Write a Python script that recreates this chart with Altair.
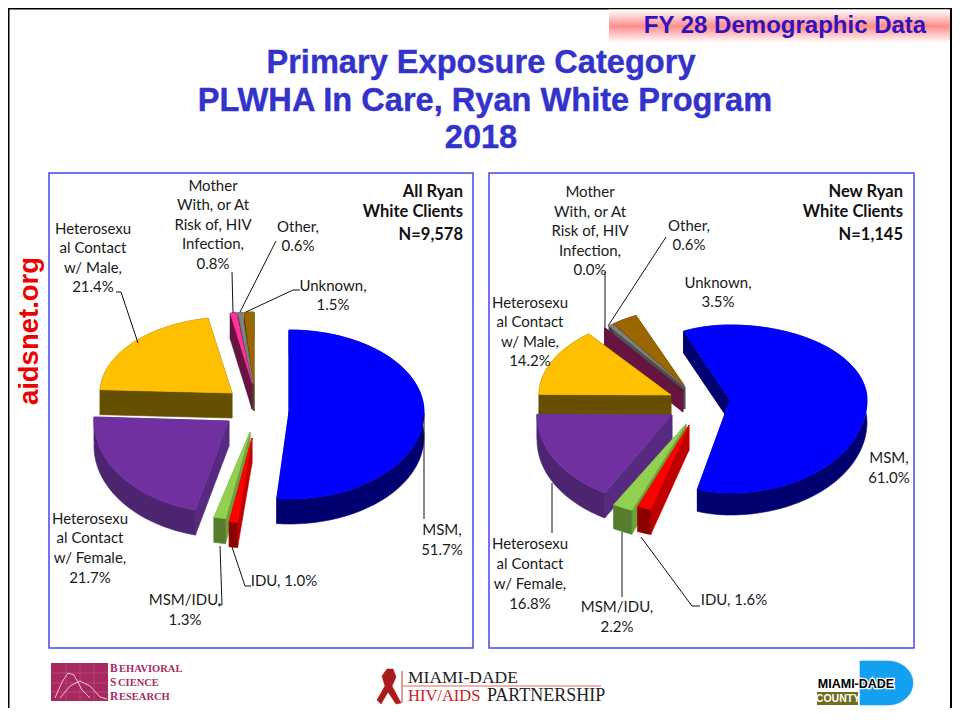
import math
import altair as alt
import pandas as pd

# ---------- values ----------
categories = ["MSM", "IDU", "MSM/IDU", "Heterosexual Contact w/ Female",
              "Heterosexual Contact w/ Male", "Mother With, or At Risk of, HIV Infection",
              "Other", "Unknown"]
all_clients = [51.7, 1.0, 1.3, 21.7, 21.4, 0.8, 0.6, 1.5]
new_clients = [61.0, 1.6, 2.2, 16.8, 14.2, 0.0, 0.6, 3.5]

top_colors = ["#0000FF", "#FF0000", "#92D050", "#7030A0", "#FFC000", "#FF3399", "#808080", "#996600"]
wall_colors = ["#000070", "#8B0000", "#557D2C", "#4C2470", "#664F00", "#661440", "#404040", "#4A3000"]
cut_colors = ["#00006E", "#C00000", "#6FA03C", "#552A80", "#664F00", "#661440", "#505050", "#4A3000"]

# ---------- pie layout (apex x, apex y, rx right, rx left, ry-top, ry-bottom, depth) ----------
left_geo = [(289, 412, 135, 115, 82, 87, 25), (252, 438, 135, 135, 85, 85, 25), (250, 432, 145, 145, 88, 88, 25),
            (229, 421, 135, 135, 92, 92, 25), (232, 393, 132, 132, 76, 76, 25), (252, 383, 120, 120, 71, 71, 26),
            (253, 384, 115, 115, 72, 72, 26), (254, 385, 106, 106, 73, 73, 26)]
right_geo = [(730, 400, 137, 117, 75, 93, 22), (689, 425, 137, 137, 88, 88, 25), (686, 424, 145, 145, 93, 93, 24),
             (672, 415, 140, 135, 90, 90, 25), (671, 395, 128, 132, 78, 78, 20), (683, 390, 126, 126, 80, 80, 22),
             (685, 387, 122, 122, 78, 78, 22), (684, 385, 119, 119, 76, 76, 24)]
left_rotation = 0.0
right_rotation = -23.4
paint_order = [7, 6, 5, 4, 3, 2, 1, 0]


def slice_rows(name, values, geo, rotation):
    rows = []
    starts, acc = [], rotation
    for v in values:
        starts.append(acc)
        acc += v * 3.6
    for k in paint_order:
        ax, ay, rxr, rxl, ryt, ryb, d = geo[k]
        a0, a1 = starts[k], starts[k] + values[k] * 3.6

        def pt(a):
            r = math.radians(a)
            c, s = math.cos(r), math.sin(r)
            return ax + (rxr if s > 0 else rxl) * s, ay - (ryt if c > 0 else ryb) * c

        n = max(2, int((a1 - a0) / 2) + 2)
        arc = [pt(a0 + (a1 - a0) * j / (n - 1)) for j in range(n)]

        def add(part, pts, color):
            pid = f"{name}-{k}-{part}"
            for i, (x, y) in enumerate(pts):
                rows.append(dict(id=pid, i=i, x=x, y=y, fill=color))

        p0, p1 = arc[0], arc[-1]
        add("cut0", [(ax, ay), p0, (p0[0], p0[1] + d), (ax, ay + d)], cut_colors[k])
        add("cut1", [(ax, ay), p1, (p1[0], p1[1] + d), (ax, ay + d)], cut_colors[k])
        add("wall", arc + [(x, y + d) for x, y in reversed(arc)], wall_colors[k])
        if values[k] > 0:
            add("top", [(ax, ay)] + arc, top_colors[k])
    return rows


pie_rows = slice_rows("all", all_clients, left_geo, left_rotation) + \
    slice_rows("new", new_clients, right_geo, right_rotation)

# ---------- annotation text ----------
left_labels = [
    ("Mother", 213, 186), ("With, or At", 213, 205), ("Risk of, HIV", 213, 225), ("Infection,", 213, 244), ("0.8%", 213, 264),
    ("Heterosexu", 93, 229), ("al Contact", 93, 248), ("w/ Male,", 93, 268), ("21.4%", 93, 287),
    ("Other,", 298, 227), ("0.6%", 298, 246), ("Unknown,", 333, 286), ("1.5%", 333, 305),
    ("Heterosexu", 90, 519), ("al Contact", 90, 538), ("w/ Female,", 90, 558), ("21.7%", 90, 578),
    ("MSM/IDU,", 185, 600), ("1.3%", 185, 620), ("IDU, 1.0%", 284, 581), ("MSM,", 442, 530), ("51.7%", 442, 550),
]
right_labels = [
    ("Mother", 590, 192), ("With, or At", 590, 212), ("Risk of, HIV", 590, 231), ("Infection,", 590, 251), ("0.0%", 590, 270),
    ("Other,", 689, 226), ("0.6%", 689, 245), ("Unknown,", 718, 283), ("3.5%", 718, 302),
    ("Heterosexu", 530, 303), ("al Contact", 530, 322), ("w/ Male,", 530, 342), ("14.2%", 530, 361),
    ("Heterosexu", 530, 544), ("al Contact", 530, 564), ("w/ Female,", 530, 584), ("16.8%", 530, 604),
    ("MSM/IDU,", 617, 607), ("2.2%", 617, 627), ("IDU, 1.6%", 734, 600), ("MSM,", 889, 458), ("61.0%", 889, 478),
]
panel_titles = [("All Ryan", 463, 192), ("White Clients", 463, 212), ("N=9,578", 463, 235),
                ("New Ryan", 903, 192), ("White Clients", 903, 212), ("N=1,145", 903, 235)]
main_title = [("Primary Exposure Category", 481, 63), ("PLWHA In Care, Ryan White Program", 485, 101), ("2018", 481, 138)]

leaders = [
    [(232, 272), (233, 313)], [(276, 241), (240, 312)], [(246, 312), (293, 290), (300, 290)],
    [(116, 292), (121, 292), (138, 343)], [(424, 413), (424, 519)],
    [(232, 547), (245, 586), (251, 586)], [(220, 546), (222, 605), (218, 605)],
    [(605, 272), (605, 327)], [(666, 237), (608, 326)], [(552, 483), (552, 533)],
    [(622, 532), (622, 597)], [(641, 537), (692, 606), (700, 606)],
]

X = alt.X("x:Q", axis=None, scale=alt.Scale(domain=[8, 952], nice=False, zero=False))
Y = alt.Y("y:Q", axis=None, scale=alt.Scale(domain=[708, 8], nice=False, zero=False))


def rect_layer(x0, x1, y0, y1, **mark):
    df = pd.DataFrame([dict(x=x0, x2=x1, y=y0, y2=y1)])
    return alt.Chart(df).mark_rect(**mark).encode(x=X, x2="x2:Q", y=Y, y2="y2:Q")


def text_layer(rows, **mark):
    df = pd.DataFrame(rows, columns=["t", "x", "y"])
    return alt.Chart(df).mark_text(baseline="middle", **mark).encode(x=X, y=Y, text="t:N")


def poly_layer(rows):
    df = pd.DataFrame(rows)
    return alt.Chart(df).mark_line(filled=True, strokeWidth=0.6, interpolate="linear-closed").encode(
        x=X, y=Y, detail="id:N", order="i:Q",
        fill=alt.Fill("fill:N", scale=None), stroke=alt.Stroke("fill:N", scale=None))


def line_layer(lines, color="#111111", width=1.0):
    rows = [dict(id=n, i=i, x=x, y=y) for n, pts in enumerate(lines) for i, (x, y) in enumerate(pts)]
    return alt.Chart(pd.DataFrame(rows)).mark_line(color=color, strokeWidth=width).encode(
        x=X, y=Y, detail="id:N", order="i:Q")


def flat_poly(pid, pts, color):
    return [dict(id=pid, i=i, x=x, y=y, fill=color) for i, (x, y) in enumerate(pts)]


SANS = "Liberation Sans"
LABEL = "Lato"
SERIF = "Liberation Serif"
BLUE = "#3333CC"
PINK = "#A8295F"

gradient = alt.LinearGradient(gradient="linear", x1=0, x2=0, y1=0, y2=1, stops=[
    alt.GradientStop(offset=0, color="#FFFFFF"),
    alt.GradientStop(offset=0.5, color="#FF8E8E"),
    alt.GradientStop(offset=1, color="#FFFFFF")])

# logo shapes
d_logo = [(860, 661), (888, 661)] + [
    (888 + 25 * math.sin(math.radians(a)), 683 - 22 * math.cos(math.radians(a))) for a in range(10, 180, 10)
] + [(888, 705), (860, 705)]
ribbon = [(387, 669), (393, 669), (396, 677), (392, 686), (401, 703), (396, 704), (388, 692),
          (381, 704), (377, 700), (385, 686), (382, 676)]
logos = flat_poly("d", d_logo, "#14A0F0") + flat_poly("rib", ribbon, "#A81C1C")

chart = alt.layer(
    rect_layer(8, 9.5, 8, 708, color="#000000"),
    rect_layer(8, 952, 8, 9.5, color="#000000"),
    rect_layer(950, 952, 8, 708, color="#000000"),
    rect_layer(609, 950, 9.5, 43, fill=gradient),
    text_layer([("FY 28 Demographic Data", 785, 26)], font=SANS, fontWeight="bold", fontSize=24, color="#3311BB"),
    text_layer(main_title, font=SANS, fontWeight="bold", fontSize=32.6, color=BLUE, stroke=BLUE, strokeWidth=0.4),
    rect_layer(49, 473, 173, 648, fill="#FFFFFF", stroke="#4646EE", strokeWidth=1.5),
    rect_layer(489, 914, 173, 648, fill="#FFFFFF", stroke="#4646EE", strokeWidth=1.5),
    text_layer([("aidsnet.org", 30, 331)], font=SANS, fontWeight="bold", fontSize=27.5, color="#EE0000", angle=270),
    poly_layer(pie_rows),
    line_layer(leaders),
    text_layer(left_labels + right_labels, font=LABEL, fontSize=15, color="#1A1A1A"),
    text_layer(panel_titles, font=LABEL, fontSize=16.5, fontWeight="bold", align="right", color="#111111"),
    # logos
    rect_layer(51, 108, 663, 701, color=PINK),
    line_layer([[(51, 673), (108, 673)], [(51, 683), (108, 683)], [(51, 692), (108, 692)],
                [(66, 663), (66, 701)], [(80, 663), (80, 701)], [(94, 663), (94, 701)]], color="#C05888", width=0.6),
    line_layer([[(55, 698), (62, 682), (68, 673), (74, 675), (82, 690), (90, 698)],
                [(60, 698), (70, 686), (80, 681), (90, 686), (100, 697), (107, 699)]], color="#F0C4D8", width=1),
    text_layer([("B", 110, 669), ("S", 110, 683), ("R", 110, 697)], font=SERIF, fontWeight="bold", fontSize=11.5, align="left", color=PINK),
    text_layer([("EHAVIORAL", 119, 669), ("CIENCE", 118, 683), ("ESEARCH", 119, 697)], font=SERIF, fontWeight="bold", fontSize=10.5, align="left", color=PINK),
    poly_layer(logos),
    line_layer([[(402, 671), (402, 703)]], color="#CC3333", width=1),
    line_layer([[(402, 686), (601, 686)]], color="#EE9999", width=1.5),
    text_layer([("MIAMI-DADE", 408, 678)], font=SERIF, fontSize=17.5, align="left", color="#222222"),
    text_layer([("HIV/AIDS", 408, 696)], font=SERIF, fontSize=16.5, align="left", color="#CC2222"),
    text_layer([("PARTNERSHIP", 487, 696)], font=SERIF, fontSize=18, align="left", color="#222222"),
    rect_layer(817, 858, 692, 705, color="#6E6E1E"),
    text_layer([("COUNTY", 838, 699)], font=SANS, fontWeight="bold", fontSize=10.5, color="#FFFFFF"),
    text_layer([("MIAMI-DADE", 856, 684)], font=SANS, fontWeight="bold", fontSize=12.5, color="#FFFFFF", stroke="#FFFFFF", strokeWidth=2.5),
    text_layer([("MIAMI-DADE", 856, 684)], font=SANS, fontWeight="bold", fontSize=12.5, color="#000000"),
).resolve_scale(fill="independent", stroke="independent").properties(
    width=944, height=700, padding=0,
).configure_view(stroke=None)

chart.save("out.html", embed_options={"renderer": "svg", "actions": False})
